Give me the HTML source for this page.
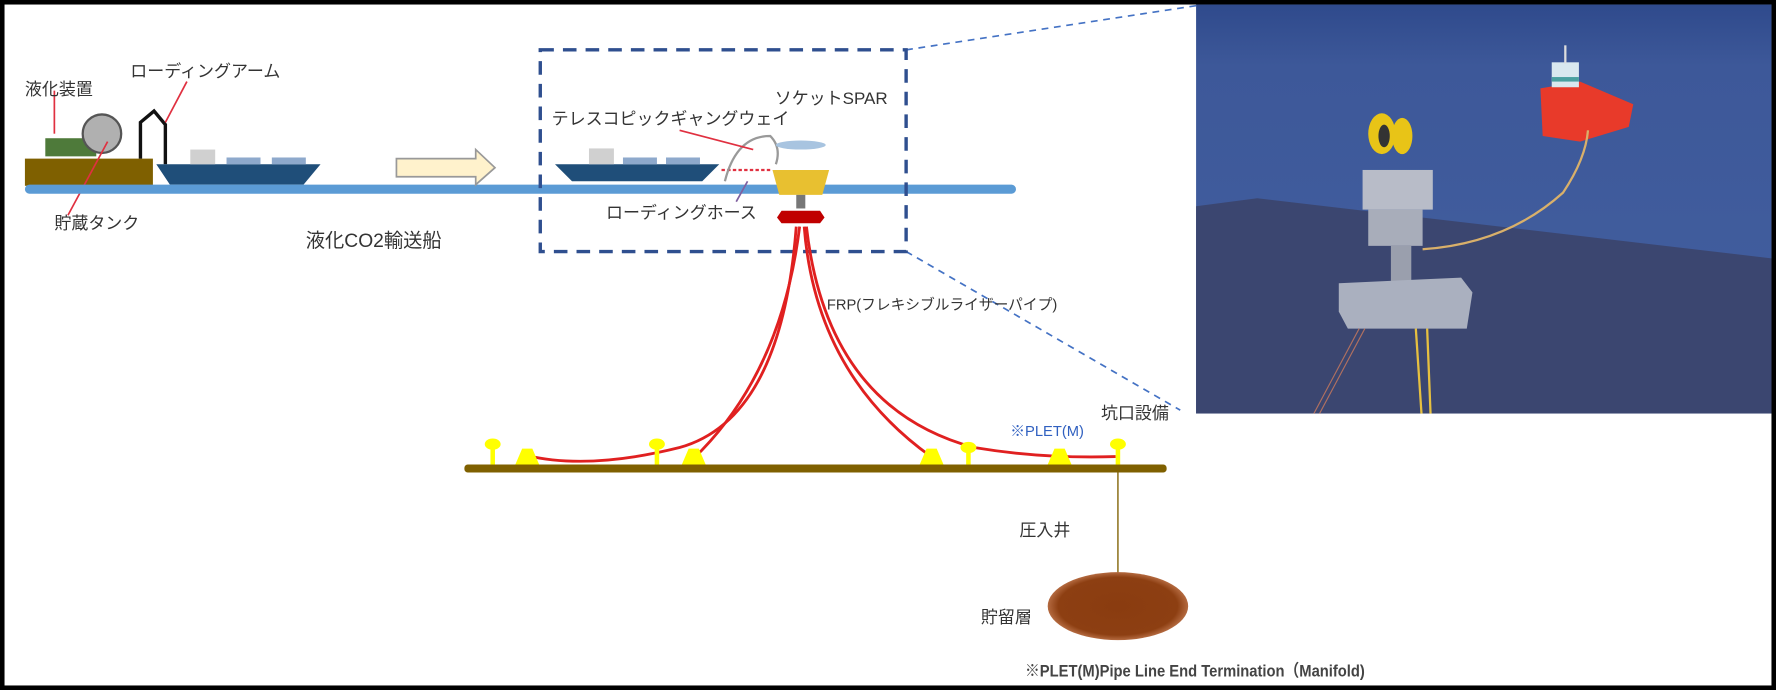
<!DOCTYPE html>
<html><head><meta charset="utf-8"><style>
html,body{margin:0;padding:0;background:#000;}
svg{display:block;}
text{font-family:"Liberation Sans","Noto Sans CJK JP",sans-serif;fill:#333;}
</style></head><body>
<svg width="1776" height="690" viewBox="0 0 1568 609" preserveAspectRatio="none" xmlns="http://www.w3.org/2000/svg">
<rect x="0" y="0" width="1568" height="609" fill="#000"/>
<rect x="4" y="4" width="1560" height="601" fill="#fff"/>
<defs>
<linearGradient id="sea" x1="0" y1="0" x2="0" y2="1"><stop offset="0" stop-color="#2f4a8c"/><stop offset="0.15" stop-color="#3d5899"/><stop offset="1" stop-color="#4360a0"/></linearGradient>
<radialGradient id="res" cx="0.5" cy="0.5" r="0.5"><stop offset="0" stop-color="#8a3c10"/><stop offset="0.85" stop-color="#8d3f12"/><stop offset="1" stop-color="#b46a40"/></radialGradient>
</defs>
<rect x="1056" y="4" width="508" height="361" fill="url(#sea)"/>
<polygon points="1056,182 1110,175 1564,228 1564,365 1056,365" fill="#3b4670"/>
<!-- ship in photo -->
<polygon points="1360,78 1395,72 1442,92 1438,112 1395,125 1362,120" fill="#e83a2a"/>
<rect x="1370" y="55" width="24" height="22" fill="#d9e8ef"/>
<rect x="1370" y="68" width="24" height="4" fill="#4aa0a0"/>
<line x1="1382" y1="40" x2="1382" y2="56" stroke="#ddd" stroke-width="2"/>
<!-- spar in photo -->
<ellipse cx="1220" cy="118" rx="12" ry="18" fill="#e8c417"/>
<ellipse cx="1238" cy="120" rx="9" ry="16" fill="#e8c417"/>
<ellipse cx="1222" cy="120" rx="5" ry="10" fill="#333"/>
<rect x="1203" y="150" width="62" height="35" fill="#b8bcc8"/>
<rect x="1208" y="185" width="48" height="32" fill="#a8adba"/>
<rect x="1228" y="217" width="18" height="40" fill="#9a9fad"/>
<polygon points="1182,250 1290,245 1300,258 1295,290 1190,290 1182,275" fill="#aab0bf"/>
<path d="M1256 220 Q1330 215 1380 170 Q1400 140 1402 115" stroke="#d9b06a" stroke-width="2" fill="none"/>
<path d="M1250 290 L1255 365 M1260 290 L1263 365" stroke="#e6c040" stroke-width="2" fill="none"/>
<path d="M1200 290 L1160 365 M1205 290 L1165 365" stroke="#b07060" stroke-width="1" fill="none"/>
<!-- dashed callout lines -->
<line x1="800" y1="44" x2="1056" y2="5" stroke="#4472c4" stroke-width="1.5" stroke-dasharray="6,5"/>
<line x1="800" y1="222" x2="1042" y2="362" stroke="#4472c4" stroke-width="1.5" stroke-dasharray="6,5"/>
<!-- left facility -->
<rect x="22" y="140" width="113" height="24" fill="#7f6000"/>
<rect x="40" y="122" width="45" height="16" fill="#4e7a3a"/>
<circle cx="90" cy="118" r="17" fill="#b0b0b0" stroke="#555" stroke-width="2"/>
<line x1="48" y1="80" x2="48" y2="118" stroke="#e03040" stroke-width="1.5"/>
<line x1="95" y1="125" x2="60" y2="190" stroke="#e03040" stroke-width="1.5"/>
<path d="M124 140 L124 108 L136 98 L146 110 L146 145" stroke="#111" stroke-width="3" fill="none"/>
<line x1="146" y1="108" x2="165" y2="72" stroke="#e03040" stroke-width="1.5"/>
<!-- ship1 -->
<polygon points="138,145 283,145 268,163 150,163" fill="#1f4e79"/>
<rect x="168" y="132" width="22" height="13" fill="#d0d0d0"/>
<rect x="200" y="139" width="30" height="6" fill="#8ea9cc"/>
<rect x="240" y="139" width="30" height="6" fill="#8ea9cc"/>
<!-- water -->
<rect x="22" y="163" width="875" height="8" rx="4" fill="#5b9bd5"/>
<!-- arrow -->
<polygon points="350,140 420,140 420,132 437,148 420,163 420,156 350,156" fill="#fff2cc" stroke="#999" stroke-width="1.5"/>
<!-- dashed box -->
<rect x="477" y="44" width="323" height="178" fill="none" stroke="#2f4f8f" stroke-width="3" stroke-dasharray="12,8"/>
<!-- ship2 -->
<polygon points="490,145 635,145 620,160 505,160" fill="#1f4e79"/>
<rect x="520" y="131" width="22" height="14" fill="#d0d0d0"/>
<rect x="550" y="139" width="30" height="6" fill="#8ea9cc"/>
<rect x="588" y="139" width="30" height="6" fill="#8ea9cc"/>
<line x1="637" y1="150" x2="682" y2="150" stroke="#e03040" stroke-width="2" stroke-dasharray="3,2"/>
<path d="M640 160 Q650 120 680 120 Q690 130 685 145" stroke="#999" stroke-width="2" fill="none"/>
<line x1="600" y1="115" x2="665" y2="132" stroke="#e03040" stroke-width="1.5"/>
<line x1="660" y1="160" x2="650" y2="178" stroke="#8060a0" stroke-width="1.5"/>
<!-- spar -->
<ellipse cx="707" cy="128" rx="22" ry="4" fill="#a8c4e0"/>
<polygon points="682,150 732,150 726,172 688,172" fill="#e8c030"/>
<rect x="703" y="172" width="8" height="12" fill="#777"/>
<polygon points="690,186 724,186 728,192 724,197 690,197 686,192" fill="#c00000"/>
<!-- risers -->
<g stroke="#e02020" stroke-width="2.5" fill="none">
<path d="M703 200 Q690 370 600 395 Q520 415 465 402"/>
<path d="M706 200 Q690 330 612 405"/>
<path d="M710 200 Q720 330 822 403"/>
<path d="M712 200 Q730 360 860 395 Q920 405 985 403"/>
</g>
<!-- seabed -->
<rect x="410" y="410" width="620" height="7" rx="3" fill="#7f6000"/>
<g fill="#ffff00">
<polygon points="455,410 476,410 470,396 461,396"/>
<polygon points="602,410 623,410 617,396 608,396"/>
<polygon points="812,410 833,410 827,396 818,396"/>
<polygon points="925,410 946,410 940,396 931,396"/>
<ellipse cx="435" cy="392" rx="7" ry="5"/><rect x="433" y="392" width="4" height="18"/>
<ellipse cx="580" cy="392" rx="7" ry="5"/><rect x="578" y="392" width="4" height="18"/>
<ellipse cx="855" cy="395" rx="7" ry="5"/><rect x="853" y="395" width="4" height="15"/>
<ellipse cx="987" cy="392" rx="7" ry="5"/><rect x="985" y="392" width="4" height="18"/>
</g>
<line x1="987" y1="417" x2="987" y2="510" stroke="#7f6000" stroke-width="1.2"/>
<ellipse cx="987" cy="535" rx="62" ry="30" fill="url(#res)"/>
<!-- labels -->
<g font-size="15">
<text x="22" y="84">液化装置</text>
<text x="115" y="68">ローディングアーム</text>
<text x="48" y="202">貯蔵タンク</text>
<text x="270" y="218" font-size="17">液化CO2輸送船</text>
<text x="684" y="92">ソケットSPAR</text>
<text x="487" y="110">テレスコピックギャングウェイ</text>
<text x="535" y="193">ローディングホース</text>
<text x="730" y="273" font-size="13">FRP(フレキシブルライザーパイプ)</text>
<text x="972" y="370">坑口設備</text>
<text x="892" y="385" style="fill:#3060c0" font-size="13">※PLET(M)</text>
<text x="900" y="473">圧入井</text>
<text x="866" y="550">貯留層</text>
<text x="905" y="597" font-size="15" font-weight="bold" textLength="300" lengthAdjust="spacingAndGlyphs" style="fill:#444">※PLET(M)Pipe Line End Termination（Manifold)</text>
</g>
</svg>
</body></html>
